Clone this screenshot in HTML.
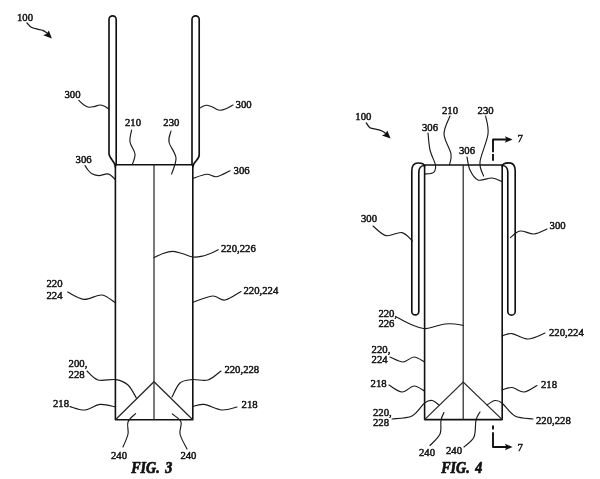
<!DOCTYPE html>
<html><head><meta charset="utf-8"><title>FIG. 3 / FIG. 4</title>
<style>
html,body{margin:0;padding:0;background:#fff;}
svg{display:block;will-change:transform;}
text{font-family:"Liberation Serif","DejaVu Serif",serif;font-size:11.4px;fill:#111;stroke:#111;stroke-width:0.5;letter-spacing:0;}
.fig{font-size:16px;font-weight:bold;font-style:italic;word-spacing:2.2px;letter-spacing:0;stroke-width:0.75;stroke-linejoin:round;}
.b{fill:none;stroke:#111;stroke-width:1.6;stroke-linecap:round;stroke-linejoin:round;}
.h{fill:none;stroke:#111;stroke-width:1.65;stroke-linecap:round;stroke-linejoin:round;}
.t{fill:none;stroke:#2a2a2a;stroke-width:1.25;}
.l{fill:none;stroke:#1a1a1a;stroke-width:1.15;stroke-linecap:round;}
.a{fill:#111;stroke:none;}
</style></head><body>
<svg width="600" height="479" viewBox="0 0 600 479">
<rect width="600" height="479" fill="#fff"/>

<path class="b" d="M115.4 164.8H192.8V419.7H115.4Z"/>
<path class="t" d="M154.0 164.8V419.7"/>
<path class="t" d="M115.4 419.7L154.0 381.7L192.8 419.7"/>
<path class="h" d="M116.2 164.8V19.4a3.6 3.6 0 0 0 -7.2 0V153.5c0 5 6.4 8 6.4 13.5"/>
<path class="h" d="M192 164.8V19.4a3.6 3.6 0 0 1 7.2 0V155c0 5 -6.4 7 -6.4 12"/>
<text transform="translate(17 20.5) scale(0.94 1)">100</text>
<path class="l" d="M27 23C27.7 23.7 29.6 26.3 31.3 27.3C33.0 28.3 35.4 28.6 37.3 29.1C39.2 29.6 41.0 29.6 42.7 30.3C44.4 31.0 46.5 32.8 47.3 33.3" style="stroke-width:1.3"/>
<path class="a" d="M51.9 38.5L48.8 30.4L46.8 33.8L43.2 35.2Z"/>
<text transform="translate(64.5 98) scale(0.94 1)">300</text>
<path class="l" d="M78.8 100.4C79.7 101.2 82.3 103.9 84 105C85.7 106.1 87.0 106.9 88.7 107.2C90.4 107.5 92.1 107.0 94 106.6C95.9 106.2 98.3 105.1 100 105C101.7 104.9 102.5 105.3 104 106C105.5 106.7 107.9 108.5 108.7 109"/>
<text transform="translate(235.6 108.4) scale(0.94 1)">300</text>
<path class="l" d="M199.6 108.3C200.2 108.0 201.8 106.7 203 106.2C204.2 105.7 205.5 105.2 207 105.3C208.5 105.4 210.5 106.2 212 106.8C213.5 107.4 214.7 108.4 216 109C217.3 109.6 218.3 110.2 220 110.2C221.7 110.2 223.8 109.6 226 108.7C228.2 107.8 231.8 105.6 233 105"/>
<text transform="translate(125 126) scale(0.94 1)">210</text>
<path class="l" d="M131.6 130C131.3 132.0 129.4 138.0 130 142C130.6 146.0 134.6 150.3 135 154C135.4 157.7 132.8 162.7 132.4 164.4"/>
<text transform="translate(163.3 126) scale(0.94 1)">230</text>
<path class="l" d="M171 131C170.7 132.8 168.2 137.5 169 142C169.8 146.5 175.6 152.7 176 158C176.4 163.3 172.3 171.3 171.6 174"/>
<text transform="translate(75.6 163) scale(0.94 1)">306</text>
<path class="l" d="M85 165.6C85.5 166.3 86.8 168.6 88 170C89.2 171.4 90.2 172.9 92 173.8C93.8 174.7 96.5 175.6 99 175.6C101.5 175.6 105.0 173.8 107 173.8C109.0 173.8 109.6 174.5 111 175.5C112.4 176.5 114.6 178.9 115.3 179.6"/>
<text transform="translate(233.6 174) scale(0.94 1)">306</text>
<path class="l" d="M193.3 178.3C195.5 177.6 202.8 174.6 206.7 174.3C210.6 174.0 212.8 177.3 216.7 176.7C220.6 176.1 227.8 171.7 230 170.7"/>
<text transform="translate(221 252) scale(0.94 1)">220,226</text>
<path class="l" d="M154 257.7C155.5 257.0 159.8 254.6 163 253.5C166.2 252.4 169.7 251.3 173 251.4C176.3 251.5 179.7 252.9 183 253.8C186.3 254.7 189.7 256.6 193 257C196.3 257.4 200.0 256.6 203 256C206.0 255.4 208.4 254.2 211 253.2C213.6 252.1 217.1 250.3 218.3 249.7"/>
<text transform="translate(46.5 287) scale(0.94 1)">220</text>
<text transform="translate(46.5 299.4) scale(0.94 1)">224</text>
<path class="l" d="M67.6 292C70.3 293.2 78.3 298.9 84 299.4C89.7 299.9 96.7 294.4 102 295C107.3 295.6 113.3 301.7 115.6 303"/>
<text transform="translate(243.5 294.4) scale(0.94 1)">220,224</text>
<path class="l" d="M192.5 302.5C195.8 301.4 207.1 296.4 212.5 296C217.9 295.6 220.2 300.8 225 300C229.8 299.2 238.3 292.9 241 291.5"/>
<text transform="translate(68.6 366.7) scale(0.94 1)">200,</text>
<text transform="translate(68.6 377.9) scale(0.94 1)">228</text>
<path class="l" d="M87 371C88.8 372.5 93.2 378.6 98 380C102.8 381.4 111.0 378.8 116 379.6C121.0 380.4 124.6 381.9 128 385C131.4 388.1 135.0 395.8 136.4 398"/>
<text transform="translate(53 407.1) scale(0.94 1)">218</text>
<path class="l" d="M70 406.6C72.5 407.2 80.0 410.4 85 410C90.0 409.6 94.9 404.9 100 404.4C105.1 403.9 113.0 406.6 115.6 407"/>
<text transform="translate(111 459) scale(0.94 1)">240</text>
<path class="l" d="M135.6 413.6C134.3 415.0 129.3 418.6 128 422C126.7 425.4 128.8 429.8 128 434C127.2 438.2 123.8 444.8 123 447"/>
<text transform="translate(180.4 459) scale(0.94 1)">240</text>
<path class="l" d="M172.4 414C173.8 415.3 179.7 418.7 181 422C182.3 425.3 179.0 429.5 180 434C181.0 438.5 185.8 446.5 187 449"/>
<text transform="translate(224.4 373) scale(0.94 1)">220,228</text>
<path class="l" d="M172 397C173.3 394.7 176.6 385.9 180 383C183.4 380.1 187.7 380.1 192.4 379.6C197.1 379.1 203.2 381.4 208 380C212.8 378.6 218.8 372.5 221 371"/>
<text transform="translate(241.6 408.4) scale(0.94 1)">218</text>
<path class="l" d="M192.4 406.6C194.3 406.2 199.1 403.8 204 404.4C208.9 405.0 216.5 409.6 222 410C227.5 410.4 234.5 407.5 237 407"/>
<text class="fig" transform="translate(131.2 473.1) scale(0.88 1)">FIG. 3</text>
<path class="b" d="M424.6 165H502.2V419.6H424.6Z"/>
<path class="t" d="M463.2 165V419.6"/>
<path class="t" d="M424.6 419.6L463.2 382L502.2 419.6"/>
<path class="h" d="M424.6 166.5C424.6 163.5 421 163 418 163C414 163 411.8 166 411.8 171V311.4a3.5 3.5 0 0 0 7 0V172c0 -4 2.5 -6.5 5.8 -6.5"/>
<path class="h" d="M502.2 166.5C502.2 163.5 506 162.8 509 162.8C513 162.8 515.2 166 515.2 171V311.4a3.6 3.6 0 0 1 -7.4 0V172c0 -4 -2.3 -6.5 -5.6 -6.5"/>
<text transform="translate(355.3 120.4) scale(0.94 1)">100</text>
<path class="l" d="M366.3 123C366.9 123.8 368.3 126.7 370 127.7C371.7 128.8 374.7 128.8 376.7 129.3C378.7 129.9 380.4 130.3 382 131C383.6 131.7 385.3 133.2 386 133.7" style="stroke-width:1.3"/>
<path class="a" d="M390.6 138.6L387.3 130.4L385.4 133.9L381.9 135.5Z"/>
<text transform="translate(422 131.2) scale(0.94 1)">306</text>
<path class="l" d="M428 133C428.3 135.8 428.8 144.7 430 150C431.2 155.3 434.8 161.4 435.5 165C436.2 168.6 435.2 170.1 434.5 171.5C433.8 172.9 432.6 173.1 431 173.5C429.4 173.9 426.0 173.8 425 173.8"/>
<text transform="translate(442 114.4) scale(0.94 1)">210</text>
<path class="l" d="M450 116C449.0 119.0 443.8 127.7 444 134C444.2 140.3 450.1 148.9 451 154C451.9 159.1 449.8 162.7 449.6 164.4"/>
<text transform="translate(477.6 114.4) scale(0.94 1)">230</text>
<path class="l" d="M485.6 116C486.0 119.0 488.9 126.3 488 134C487.1 141.7 480.7 155.0 480 162C479.3 169.0 483.0 173.7 483.6 176"/>
<text transform="translate(459 153.9) scale(0.94 1)">306</text>
<path class="l" d="M467 157C467.5 159.2 468.2 166.2 470 170C471.8 173.8 474.3 178.7 478 180C481.7 181.3 488.0 177.7 492 178C496.0 178.3 500.3 181.0 502 181.6"/>
<text transform="translate(361 222.4) scale(0.94 1)">300</text>
<path class="l" d="M373 226C375.2 227.6 381.2 234.5 386 235.6C390.8 236.7 397.6 231.7 402 232.6C406.4 233.5 410.7 239.6 412.4 241"/>
<text transform="translate(549.6 229.4) scale(0.94 1)">300</text>
<path class="l" d="M510.4 237.6C512.0 236.5 516.1 231.6 520 231C523.9 230.4 529.5 234.3 534 234C538.5 233.7 544.8 229.8 547 229"/>
<text transform="translate(378.4 317) scale(0.94 1)">220,</text>
<text transform="translate(378.4 327.1) scale(0.94 1)">226</text>
<path class="l" d="M397.3 317.5C398.8 318.2 403.1 320.6 406 322C408.9 323.4 411.8 324.9 415 326C418.2 327.1 421.7 328.5 425 328.6C428.3 328.7 431.7 327.3 435 326.5C438.3 325.7 441.7 324.4 445 324C448.3 323.6 451.9 323.8 455 324C458.1 324.2 462.1 325.2 463.5 325.5"/>
<text transform="translate(371.6 353) scale(0.94 1)">220,</text>
<text transform="translate(371.6 363.2) scale(0.94 1)">224</text>
<path class="l" d="M390 357C392.2 357.8 399.0 362.0 403 362C407.0 362.0 410.4 357.0 414 357C417.6 357.0 422.8 361.2 424.5 362"/>
<text transform="translate(549 336) scale(0.94 1)">220,224</text>
<path class="l" d="M502 336C503.7 335.6 507.7 333.1 512 333.6C516.3 334.1 522.5 339.1 528 339C533.5 338.9 542.2 334.0 545 333"/>
<text transform="translate(370.6 387.1) scale(0.94 1)">218</text>
<path class="l" d="M389 385C391.2 386.2 397.8 391.8 402 392C406.2 392.2 410.2 386.2 414 386C417.8 385.8 422.8 390.2 424.6 391"/>
<text transform="translate(541 388.4) scale(0.94 1)">218</text>
<path class="l" d="M502 390C503.7 389.6 508.3 387.2 512 387.5C515.7 387.8 519.8 392.3 524 392C528.2 391.7 534.8 386.6 537 385.5"/>
<text transform="translate(373 416.4) scale(0.94 1)">220,</text>
<text transform="translate(373 426.2) scale(0.94 1)">228</text>
<path class="l" d="M392 419C395.3 418.5 406.6 418.7 412 416C417.4 413.3 421.3 405.6 424.6 403C427.9 400.4 429.6 400.2 432 400.5C434.4 400.8 437.8 404.2 439 405"/>
<text transform="translate(536 424) scale(0.94 1)">220,228</text>
<path class="l" d="M487 405C488.3 404.2 492.5 400.8 495 400.5C497.5 400.2 498.7 400.4 502 403C505.3 405.6 509.8 413.3 515 416C520.2 418.7 530.0 418.5 533 419"/>
<text transform="translate(419 456) scale(0.94 1)">240</text>
<path class="l" d="M444 412.5C443.5 413.8 441.7 416.4 441 420C440.3 423.6 441.8 429.8 440 434C438.2 438.2 431.7 443.6 430 445.5"/>
<text transform="translate(446 454) scale(0.94 1)">240</text>
<path class="l" d="M480 412C479.3 413.3 477.0 415.8 476 420C475.0 424.2 476.0 432.5 474 437C472.0 441.5 465.7 445.3 464 447"/>
<path class="b" d="M493 160.8V154M493 152.2V139.5H508" style="stroke-width:1.9;stroke-linecap:butt"/>
<path class="a" d="M512.6 139.5L505 136.3L506.3 139.5L505 142.7Z"/>
<text transform="translate(517.5 142.2) scale(0.94 1)">7</text>
<path class="b" d="M493 425.6V429.4M493 432.2V447H508" style="stroke-width:1.9;stroke-linecap:butt"/>
<path class="a" d="M512.6 447L505 443.8L506.3 447L505 450.2Z"/>
<text transform="translate(517.6 450.7) scale(0.94 1)">7</text>
<text class="fig" transform="translate(441.2 473.1) scale(0.88 1)">FIG. 4</text>
</svg>
</body></html>
